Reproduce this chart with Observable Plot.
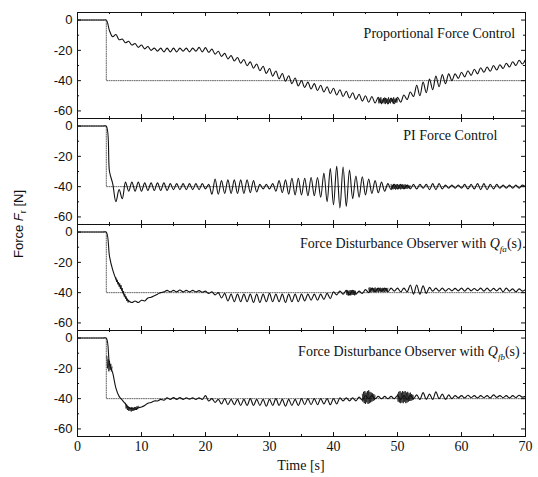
<!DOCTYPE html>
<html>
<head>
<meta charset="utf-8">
<script src="https://cdn.jsdelivr.net/npm/d3@7"></script>
<script src="https://cdn.jsdelivr.net/npm/@observablehq/plot@0.6"></script>
<style>
  html, body { margin: 0; padding: 0; background: #fff; }
  #chart { width: 538px; height: 477px; }
</style>
</head>
<body>
<div id="chart"></div>
<script>
// ---------- data ----------
const panelNames = [
  "Proportional Force Control",
  "PI Force Control",
  "Force Disturbance Observer with Qfa(s)",
  "Force Disturbance Observer with Qfb(s)"
];
const panelIds = [1, 2, 3, 4];
const sampleStep = 0.5;   // s between readings of the response curves
const burstStep = 0.1;    // s between readings inside noisy bursts

// Force response readings, t = 0, 0.5, 1, ... 70 s
const forceP = [
  0,0,0,0,0,0,0,0,0,0,
  -7,-11,-9.5,-13,-12.5,-15,-14,-16.5,-15.5,-18,
  -16.5,-19,-17.5,-20,-18.5,-20.5,-18.5,-21,-18.5,-21,
  -18.5,-21,-18.5,-20.5,-18.5,-21,-18.5,-20.5,-18,-21,
  -18.2,-21.3,-19.2,-22.5,-20.6,-24,-22,-25.6,-23.5,-27,
  -24.7,-28.5,-26,-30.2,-27.6,-31.8,-29,-33.5,-30.5,-35.2,
  -32,-37,-33.6,-38.8,-35.3,-40.4,-36.8,-42,-38.3,-43.5,
  -40,-44.5,-41,-45.5,-42,-46.5,-43,-47.5,-44,-48.5,
  -45,-49.5,-46,-50.5,-47,-51.5,-48,-52.5,-49,-53.5,
  -50,-54.3,-50.5,-54.8,-51,-55.2,-51.3,-55.4,-51.5,-55.3,
  -51,-54.3,-49.5,-52.5,-47.5,-50.5,-43,-50,-41,-48,
  -39,-46,-37,-44,-36,-42,-35.5,-40,-35.5,-38.5,
  -34.5,-37.5,-33.5,-36.5,-32.5,-35.5,-31.5,-34.5,-31,-33.8,
  -30,-33,-29.5,-32,-28.5,-31,-27.5,-30,-26.5,-29,
  -26
];
const forcePI = [
  0,0,0,0,0,0,0,0,0,0,
  -30,-38,-50,-42,-48,-37,-43,-37,-43,-37,
  -43,-37.5,-42.5,-37.5,-42.5,-37.5,-42.5,-37.5,-42.5,-38,
  -42,-38,-42,-38,-42,-38,-42,-38,-42,-38,
  -41.5,-38.5,-45,-35,-45,-36,-44.5,-35.5,-44.5,-35.5,
  -44.5,-35.5,-44.5,-35.5,-44,-36,-43.5,-38.5,-41.5,-38.5,
  -41.5,-38,-43,-36,-44,-35.5,-45,-34.5,-45.5,-34.5,
  -45.5,-34.5,-46,-34,-46,-34,-47,-31,-50,-28,
  -52,-26.5,-54,-27,-53,-29,-48,-33,-47,-33.5,
  -45.5,-35,-44.5,-36,-44,-37,-43,-38,-42,-38.5,
  -41.5,-38.5,-41.5,-39,-41.5,-38.5,-41.5,-38.5,-41,-38.5,
  -42,-38,-42,-38,-41.5,-39,-41,-39,-41,-39,
  -41,-38.5,-41.5,-38.5,-41.5,-38,-42,-38,-42,-38.5,
  -41.5,-38.5,-41,-39,-41,-39,-41,-39,-41,-39,
  -40
];
const forceDobA = [
  0,0,0,0,0,0,0,0,0,0,
  -16,-25,-31,-34.5,-39,-43,-45.5,-46.5,-45.5,-46.5,
  -45,-45.5,-43.5,-43,-42,-41,-40,-39.5,-38.5,-39.5,
  -38.5,-39.5,-38.3,-39.5,-38.5,-39.5,-38.5,-39.5,-38.7,-39.7,
  -39,-40.5,-39.5,-41.5,-40,-43.5,-40.5,-45.5,-41,-46,
  -41,-46,-41,-46,-41,-46.5,-41,-46.5,-41,-46,
  -40.5,-46,-41,-46,-41,-46.5,-41,-46,-41,-46,
  -41,-45.5,-41,-45,-41,-45,-41,-44.5,-40.5,-44,
  -39.5,-41.5,-39,-41,-38.5,-41.5,-38.5,-41,-39,-40.5,
  -38,-40,-37,-39.5,-37,-39,-37,-39.5,-37,-39,
  -37,-39.5,-37,-39.5,-35,-41,-35,-41,-35.5,-40.5,
  -36.5,-39,-37,-39,-37,-39,-37.3,-38.8,-37.2,-38.8,
  -37,-39,-37,-38.8,-37.3,-38.7,-37,-39,-37,-39,
  -37.2,-38.8,-37,-39.5,-37,-39,-37.5,-39.5,-37.5,-39,
  -38
];
const forceDobB = [
  0,0,0,0,0,0,0,0,0,0,
  -17,-23,-33,-38.5,-41,-43.5,-46,-46.5,-47,-46,
  -45.5,-44.5,-43,-42.5,-41.5,-41.5,-40.5,-41,-39.5,-40.5,
  -39.3,-40.5,-39.3,-40.5,-39.5,-40.3,-39.5,-40.5,-39.5,-40.5,
  -38,-41.5,-40,-42.5,-40.5,-43.5,-40,-44,-40.5,-44,
  -40.5,-44.5,-40.5,-44.5,-40,-44.5,-40.5,-44.5,-40.5,-45,
  -40.5,-44.5,-40,-44.5,-40.5,-45,-40.5,-44.5,-40.5,-44.5,
  -40,-44,-40,-44,-40,-44,-40,-43.5,-40,-44,
  -40,-43.5,-39.5,-41.5,-39.5,-41.5,-39.5,-41.5,-39,-41,
  -38,-40,-38,-40,-38.5,-40,-38.5,-40,-38.5,-40,
  -38,-40.5,-38,-40.5,-38,-40,-37.5,-40.5,-36,-40.5,
  -37,-40.5,-35.5,-40,-37,-40.5,-37.5,-40,-38,-39.5,
  -38,-39.5,-37.8,-39.3,-38,-39.5,-38,-39.3,-38,-39.5,
  -37.5,-39.2,-38,-39.3,-38,-39.5,-38,-39.3,-37.8,-39,
  -38.5
];

// dense, noisy stretches of the responses (readings every 0.1 s)
const bursts = [
  { panel: 1, start: 47.0, values: [-51.5,-55,-52,-54.5,-51,-55.5,-52.5,-54,-51.5,-55,-52,-55.5,-51.5,-54.5,-52,-55,-51,-54.5,-52.5,-55,-51.5,-54,-52,-55,-51,-54.5,-52,-54,-51.5,-54.5,-52] },
  { panel: 2, start: 49.0, values: [-38.5,-41.5,-38.8,-41.8,-38.2,-41.5,-39,-42,-38.5,-41.2,-38.3,-41.7,-38.8,-41.3,-38.5,-41.8,-39,-41.5,-38.5,-41,-38.7,-41.6,-38.5,-41.3,-39,-41.5,-38.8,-41,-39.2,-40.8,-39.5] },
  { panel: 3, start: 6.0, values: [-30,-33,-31.5,-34.5,-33,-36,-34,-37.5,-35,-38.5,-37,-40.5,-39,-42.5,-41,-44,-42.5,-45.5,-44,-46.5,-45] },
  { panel: 3, start: 42.0, values: [-38.5,-41.5,-38.5,-42,-38.8,-41.5,-38.3,-41.8,-38.5,-41.5,-39,-41.5,-38.5,-41.8,-38.8,-41] },
  { panel: 3, start: 45.5, values: [-37,-39.5,-36.5,-39.8,-37.2,-39.3,-36.8,-39.6,-37,-39.2,-36.6,-39.7,-37.3,-39.4,-36.9,-39.8,-37.1,-39.2,-36.7,-39.5,-37.2,-39.6,-36.8,-39.3,-37,-39.7,-37.3,-39.2,-36.9,-39.5,-37.1] },
  { panel: 4, start: 4.6, values: [-12,-20,-14,-22,-15,-21,-17,-22,-19] },
  { panel: 4, start: 7.5, values: [-43,-46.5,-44,-47.5,-45,-48,-45.5,-48,-46,-48.5,-45.5,-48,-46,-48,-45.5,-47.5,-45.5,-47.5,-45,-47,-45] },
  { panel: 4, start: 44.5, values: [-37,-42,-35.5,-43,-35,-43.5,-36,-42.5,-35,-43.5,-34.5,-43,-35.5,-42.5,-36,-42,-36.5,-41.5,-37,-41,-38] },
  { panel: 4, start: 50.0, values: [-37,-42,-35.5,-42.5,-35,-43,-36,-42.5,-35,-43,-35.5,-42,-35,-43,-36,-42.5,-35.5,-42,-36.5,-41.5,-36,-41.5,-37,-41,-37.5,-40.5] }
];

// reference (desired) force step
const refTime = [0, 4.5, 4.5, 70];
const refForce = [0, 0, -40, -40];

// axes
const xDomain = [0, 70];
const yDomain = [-65, 5];
const xTicks = [0, 10, 20, 30, 40, 50, 60, 70];
const xMinorTicks = [5, 15, 25, 35, 45, 55, 65];
const yTicks = [0, -20, -40, -60];
const yMinorTicks = [-10, -30, -50];

// ---------- layout / style ----------
const W = 538, H = 477;
const M = { top: 12, right: 13, bottom: 41, left: 77 };
const titleEnd = [68.4, 65.6, 69.4, 69.1];   // where each panel title ends (s)
const titleLevel = [-9, -6.5, -7.5, -9];     // vertical level of each title (N)
const serif = "'Liberation Serif', 'Times New Roman', serif";
const sans = "'Liberation Sans', Arial, sans-serif";
const majorX = 0.62, minorX = 0.32;   // tick lengths along x (s)
const majorY = 2.6, minorY = 1.35;    // tick lengths along y (N)

// ---------- tables ----------
const series = [forceP, forcePI, forceDobA, forceDobB];
const lineRows = series.flatMap((vals, i) => vals.map((f, j) => ({ panel: panelIds[i], t: j * sampleStep, f })));
const burstRows = bursts.flatMap((b, k) => b.values.map((f, j) => ({ id: k, panel: b.panel, t: b.start + j * burstStep, f })));
const refRows = panelIds.flatMap(p => refTime.map((t, j) => ({ panel: p, t, f: refForce[j] })));
const xMajRows = panelIds.flatMap(p => xTicks.map(t => ({ panel: p, t })));
const xMinRows = panelIds.flatMap(p => xMinorTicks.map(t => ({ panel: p, t })));
const yMajRows = panelIds.flatMap(p => yTicks.map(f => ({ panel: p, f })));
const yMinRows = panelIds.flatMap(p => yMinorTicks.map(f => ({ panel: p, f })));
const titleRows = panelIds.map((p, i) => ({ panel: p, t: titleEnd[i], f: titleLevel[i], label: panelNames[i] }));

const [x0, x1] = xDomain, [y0, y1] = yDomain;

const chart = Plot.plot({
  width: W, height: H,
  marginTop: M.top, marginRight: M.right, marginBottom: M.bottom, marginLeft: M.left,
  style: { fontFamily: serif, fontSize: "14px", background: "#fff", color: "#111" },
  x: { domain: xDomain, ticks: xTicks, tickSize: 0, tickPadding: 5, label: null, tickFormat: d => String(d) },
  y: { domain: yDomain, ticks: yTicks, tickSize: 0, tickPadding: 5, label: null, tickFormat: d => String(d) },
  fy: { domain: panelIds, padding: 0, axis: null, label: null },
  marks: [
    Plot.line(refRows, { x: "t", y: "f", fy: "panel", z: "panel", stroke: "#666", strokeWidth: 1, strokeDasharray: "1,1.3" }),
    Plot.line(lineRows, { x: "t", y: "f", fy: "panel", z: "panel", curve: "catmull-rom", stroke: "#111", strokeWidth: 1.1, strokeLinejoin: "round" }),
    Plot.line(burstRows, { x: "t", y: "f", fy: "panel", z: "id", stroke: "#111", strokeWidth: 0.8 }),
    // inward ticks on all four sides of every panel
    Plot.ruleX(xMajRows, { x: "t", fy: "panel", y1: y1, y2: y1 - majorY, stroke: "#111" }),
    Plot.ruleX(xMajRows, { x: "t", fy: "panel", y1: y0, y2: y0 + majorY, stroke: "#111" }),
    Plot.ruleX(xMinRows, { x: "t", fy: "panel", y1: y1, y2: y1 - minorY, stroke: "#111" }),
    Plot.ruleX(xMinRows, { x: "t", fy: "panel", y1: y0, y2: y0 + minorY, stroke: "#111" }),
    Plot.ruleY(yMajRows, { y: "f", fy: "panel", x1: x0, x2: x0 + majorX, stroke: "#111" }),
    Plot.ruleY(yMajRows, { y: "f", fy: "panel", x1: x1, x2: x1 - majorX, stroke: "#111" }),
    Plot.ruleY(yMinRows, { y: "f", fy: "panel", x1: x0, x2: x0 + minorX, stroke: "#111" }),
    Plot.ruleY(yMinRows, { y: "f", fy: "panel", x1: x1, x2: x1 - minorX, stroke: "#111" }),
    Plot.frame({ stroke: "#111", strokeWidth: 1 }),
    Plot.text(titleRows, { x: "t", y: "f", fy: "panel", text: "label", textAnchor: "end", lineAnchor: "middle", fill: "#111", fontSize: 14, fontFamily: serif })
  ]
});

document.getElementById("chart").appendChild(chart);

// ---------- typographic touches ----------
const svg = d3.select(chart);
svg.selectAll('g[aria-label="y-axis tick label"]').attr("font-family", sans).attr("font-size", 13);
svg.selectAll('g[aria-label="x-axis tick label"]').attr("font-family", serif).attr("font-size", 14);

svg.selectAll("text").each(function () {
  const el = d3.select(this);
  const m = /^(.*with )Q(f[ab])\(s\)$/.exec(el.text());
  if (!m) return;
  el.text("");
  el.append("tspan").text(m[1]);
  el.append("tspan").attr("font-style", "italic").text("Q");
  el.append("tspan").attr("font-style", "italic").attr("font-size", 9).attr("dy", 4).text(m[2]);
  el.append("tspan").attr("dy", -4).text("(s)");
});

// axis titles
const plotW = W - M.left - M.right, plotH = H - M.top - M.bottom;
svg.append("text")
  .attr("x", M.left + plotW / 2).attr("y", H - 7)
  .attr("text-anchor", "middle").attr("font-family", serif).attr("font-size", 14).attr("fill", "#111")
  .text("Time [s]");

const yl = svg.append("text")
  .attr("transform", `translate(${18},${M.top + plotH / 2}) rotate(-90)`)
  .attr("text-anchor", "middle").attr("dy", "0.35em")
  .attr("font-family", sans).attr("font-size", 13).attr("fill", "#111");
yl.append("tspan").text("Force ");
yl.append("tspan").attr("font-style", "italic").text("F");
yl.append("tspan").attr("font-size", 9).attr("dy", 3).text("r");
yl.append("tspan").attr("dy", -3).text(" [N]");
</script>
</body>
</html>
